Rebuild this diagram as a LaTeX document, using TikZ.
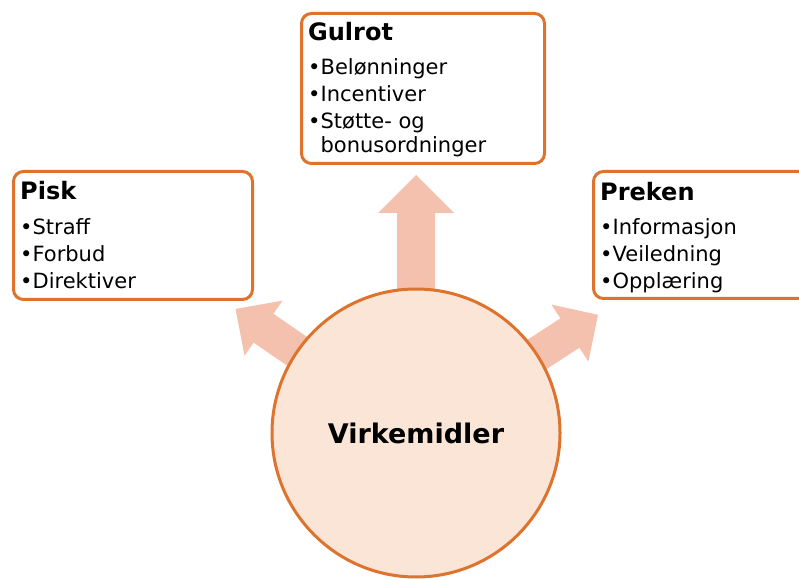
\documentclass[tikz,border=0pt]{standalone}
\usepackage{fontspec}
\setmainfont{DejaVu Sans}
\usetikzlibrary{positioning}

\definecolor{edgeorange}{RGB}{221,115,45}
\definecolor{hubfill}{RGB}{251,229,214}
\definecolor{arrowpink}{RGB}{244,193,175}

\newcommand{\fatarrow}[6]{%
  \fill[arrowpink, shift={(#1)}, rotate=#2]
    (100,-#5) -- ({#3-#4},-#5) -- ({#3-#4},-#6) -- (#3,0)
    -- ({#3-#4},#6) -- ({#3-#4},#5) -- (100,#5) -- cycle;}

\tikzset{
  box/.style={draw=edgeorange, line width=3pt, rounded corners=10pt, fill=white,
    anchor=north west, inner sep=0pt},
  boxtext/.style={inner sep=0pt, align=left, font=\fontsize{21}{27}\selectfont},
  hub/.style={circle, draw=edgeorange, line width=3pt, fill=hubfill,
    minimum size=288pt, font=\bfseries\fontsize{27}{30}\selectfont},
}

\begin{document}
\begin{tikzpicture}[x=1pt, y=1pt]
\useasboundingbox (0,0) rectangle (799,578);
\clip (0,0) rectangle (799,578);

\coordinate (c) at (416,145);

\fatarrow{c}{90}{258}{38}{19}{38}
\fatarrow{c}{145.5}{219}{34}{17.5}{33.5}
\fatarrow{c}{33}{217}{33.5}{17.5}{34}

\node[hub] (hub) at (c) {Virkemidler};

\node[box, minimum width=239pt, minimum height=128pt] (pisk) at (12,408) {};
\node[box, minimum width=243pt, minimum height=150pt] (gulrot) at (300,566) {};
\node[box, minimum width=240pt, minimum height=127pt] (preken) at (592,408) {};

\node[boxtext, below right=11pt and 8pt of pisk.north west] (pisk-text)
{\rule{0pt}{18pt}{\bfseries\fontsize{24}{27}\selectfont Pisk}\\[8pt]
•Straff\\
•Forbud\\
•Direktiver};

\node[boxtext, below right=10pt and 8pt of gulrot.north west] (gulrot-text)
{\rule{0pt}{18pt}{\bfseries\fontsize{24}{27}\selectfont Gulrot}\\[7pt]
•Belønninger\\
•Incentiver\\
•Støtte- og\\[-3pt]
\phantom{•}bonusordninger};

\node[boxtext, below right=12pt and 8pt of preken.north west] (preken-text)
{\rule{0pt}{18pt}{\bfseries\fontsize{24}{27}\selectfont Preken}\\[7pt]
•Informasjon\\
•Veiledning\\
•Opplæring};
\end{tikzpicture}
\end{document}
